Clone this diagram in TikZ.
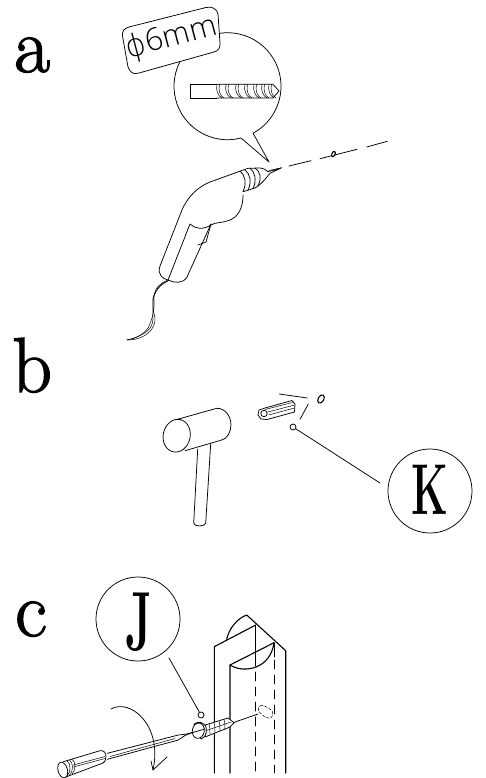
\documentclass[tikz,border=0pt]{standalone}
\usepackage{fontspec}
\newfontfamily\labfont{Open Sans Light}
\newfontfamily\phifont{DejaVu Sans ExtraLight}
\newfontfamily\letterfont[RawFeature={embolden=1.6}]{Latin Modern Roman}
\newfontfamily\badgefont{Latin Modern Roman}
\tikzset{
 ink/.style={line width=0.75pt,draw=black,line cap=round,line join=round},
 thin ink/.style={line width=0.5pt,draw=black,line cap=round,line join=round},
 thick ink/.style={line width=1.1pt,draw=black,line cap=round,line join=round},
 letter/.style={inner sep=0pt,anchor=base west,font=\letterfont\fontsize{78}{78}\selectfont},
 badge/.style={circle,draw=black,line width=0.75pt,minimum size=84pt,inner sep=0pt},
 badgetext/.style={inner sep=0pt,font=\badgefont\bfseries\fontsize{72}{72}\selectfont,xscale=0.58},
 dot/.style={circle,draw=black,line width=0.75pt,minimum size=6pt,inner sep=0pt,fill=white},
}
\begin{document}
\begin{tikzpicture}[x=1pt,y=-1pt]
\useasboundingbox (0,0) rectangle (485,778);
% letters
\node[letter] (la) at (14,72) {a};
\node[letter] (lb) at (12,392) {b};
\node[letter] (lc) at (15,636) {c};

% balloon
\draw[ink] (241,138) arc[start angle=75.4,end angle=421.5,radius=53.5] -- (269,162) -- cycle;
\draw[ink,fill=white] (122.5,36) .. controls (122,31) and (124,28.5) .. (129,27) -- (206,7.5) .. controls (212,6) and (217,9) .. (218,14) -- (220,43) .. controls (220.5,48) and (218,51) .. (214,52) -- (139,73) .. controls (133,75) and (130,72) .. (128,67) -- cycle;
\node[rotate=15,inner sep=0pt,font=\labfont\fontsize{31}{31}\selectfont] (size) at (171.5,38) {{\phifont ϕ}6mm};

% bit in the balloon
\draw[ink] (217,84.3) -- (190,84.3) -- (190,98) -- (217,98);
\draw[ink] (217,84.3) -- (273,84.3) -- (279,91) -- (273,98) -- (217,98);
\foreach \x in {217,226,236,245,254,262,269}{
  \draw[thin ink] (\x,84.3) .. controls (\x-1.5,90) and (\x+1,96) .. (\x+5,98);
  \draw[thin ink] (\x+2.5,84.3) .. controls (\x+1,90) and (\x+3,96) .. (\x+7,98);
}

% axis
\draw[ink] (289,166) -- (311,160.7);
\draw[ink] (320,158.7) -- (357,149.3);
\draw[ink] (366.7,147) -- (387.3,141.3);
\draw[line width=1.1pt,draw=black,fill=white,rotate around={-25:(333.5,154)}] (333.5,154) ellipse[x radius=1.6,y radius=2.8];

% drill
\draw[ink] (248,168.3) -- (235,173) -- (210,182) .. controls (193,189) and (184,203) .. (180,215) -- (160,266) .. controls (157,275) and (163,279) .. (168,280) .. controls (174,283) and (183,284) .. (187,277) -- (211,224);
\draw[ink] (168,280) -- (190,224) .. controls (195,229) and (203,230) .. (211,225) .. controls (215,222) and (224,223) .. (230,220) .. controls (240,216) and (243,205) .. (243,195);
\draw[ink] (211,224) -- (206,242) -- (198,245);
\draw[ink] (248,168.3) -- (260,168) .. controls (264,168.5) and (266,170) .. (268,171.7) -- (281.7,167.7) -- (270,173.3) .. controls (266,178) and (261,185) .. (255,188) -- (243,191.7);
\draw[ink] (240,171) .. controls (245,175) and (247,183) .. (243,191.7);
\draw[ink] (245,170) .. controls (250,174) and (252,181) .. (248,190.3);
\draw[ink] (250,168.2) .. controls (255,172) and (257,180) .. (253,188.8);
\draw[ink] (255,168.1) .. controls (260,171) and (262,178) .. (258,186);
\draw[thin ink] (269,170.5) -- (281,168);
% cord
\draw[thin ink] (168,280) .. controls (160,283) and (156,288) .. (155,292) .. controls (152,300) and (153,310) .. (155,318) .. controls (156,328) and (146,340) .. (127,340);
\draw[thin ink] (170,280) .. controls (160,284) and (153,293) .. (154,300) .. controls (155,312) and (151,322) .. (148,328) .. controls (143,335) and (135,339) .. (127,340);
\draw[thin ink] (168,281) .. controls (158,285) and (156,290) .. (153,298) .. controls (152,312) and (155,322) .. (150,328) .. controls (146,334) and (135,338) .. (127,340);

% hammer
\draw[ink,fill=white] (197.7,449) -- (193.7,523) .. controls (193.5,527) and (205.5,527) .. (205.7,523) -- (210.7,444);
\draw[ink,fill=white] (175,420) -- (216.7,408.3) .. controls (224,408) and (231,415) .. (231,425) .. controls (231,432) and (227,439) .. (221.7,440) -- (185,450.7);
\draw[ink,fill=white,rotate around={-12:(176.7,435.7)}] (176.7,435.7) ellipse[x radius=13.5,y radius=16.5];

% plug
\draw[ink,fill=white] (259,410) -- (265,408) -- (292,400.5) -- (295,404) -- (294.5,412) -- (267,419.5) -- (261,419) -- (258,415) -- cycle;
\draw[ink] (264,413.5) circle[radius=3.2];
\draw[thin ink] (265,409.5) -- (292.5,402.5);
\draw[thin ink] (268,412) -- (294.5,405);
\draw[thin ink] (268.5,415) -- (294.5,408);
\draw[line width=1.1pt,draw=black,rotate around={-30:(321,399)}] (321,399) ellipse[x radius=2.8,y radius=4.5];
\draw[ink] (279.3,394) -- (307.3,398);
\draw[ink] (308.3,404) -- (300,419.3);

% K
\node[badge] (K) at (430,491) {};
\node[badgetext] (Kt) at (430,490) {K};
\node[dot] (ksmall) at (293,427) {};
\coordinate (kend) at (380,483);
\draw[ink] (ksmall) -- (kend);

% J
\node[badge] (J) at (138,619) {};
\node[badgetext,font=\badgefont\bfseries\fontsize{84}{84}\selectfont,xscale=0.95] (Jt) at (139,622) {J};
\node[dot] (jsmall) at (201,715) {};
\coordinate (jend) at (169,658);
\draw[ink] (jend) -- (jsmall);

% profile
\draw[thick ink] (214.3,773) -- (214.3,646.7) -- (255.7,625);
\draw[thick ink] (230,773) -- (230,665) -- (274,642.7);
\draw[thick ink] (226.7,639.3) .. controls (229,628) and (238,618) .. (246.7,615) -- (285.7,650.7) -- (285.7,773);
\draw[ink] (255.7,625) -- (255.7,666);
\draw[ink] (274,642.7) -- (274,657);
\draw[thick ink] (230,665) .. controls (238,670) and (248,670) .. (256,667) .. controls (266,663) and (272,655) .. (274,643);
\draw[ink,dash pattern=on 9pt off 6pt] (255.7,672) -- (255.7,773);
\draw[ink,dash pattern=on 9pt off 6pt] (274,660) -- (274,773);
\draw[thin ink,dash pattern=on 3pt off 1.5pt,rounded corners=2.5pt,fill=white] (258.5,706) -- (263,705) -- (273,711) -- (272,718) -- (266,718) -- (258,711) -- cycle;

% screw
\draw[ink] (233,722.7) -- (258,714);
\draw[ink,fill=white] (205,725) -- (228,718) -- (234,722.7) -- (230,727) -- (205,737) -- cycle;
\foreach \x/\y in {209/724,214/722.5,219/721,224/719.5}{
  \draw[thin ink] (\x,\y) .. controls (\x+1,\y+3) and (\x+1,\y+7) .. (\x+1,\y+10);
}
\draw[thin ink] (205,731) -- (231,722);
\draw[ink,fill=white] (194,724) .. controls (198,721) and (204,722) .. (206,727) .. controls (207,731) and (206,735) .. (204,737) -- (201,739) -- cycle;
\draw[ink,fill=white,rotate around={-10:(198.3,730.7)}] (198.3,730.7) ellipse[x radius=6,y radius=7.7];

% screwdriver
\draw[ink,fill=white] (107.3,753.3) -- (178.3,735) -- (185,734.3) -- (193.3,732.3) -- (205,729);
\draw[ink] (193,732.3) -- (185,735.5) -- (178.3,740) -- (107.3,759.3);
\draw[thin ink] (110,756.5) -- (175,738.5);
\draw[ink,fill=white] (63.3,761.7) -- (100,750.7) .. controls (104,750) and (106,753) .. (106,756.7) .. controls (106,760) and (105,762) .. (103,763) -- (65,777.3);
\draw[thin ink] (67,760.7) .. controls (71,764) and (71,772) .. (67,776);
\draw[thin ink] (69.5,760) .. controls (73.5,763) and (73.5,771) .. (69.5,775);
\draw[thin ink] (72,759.3) .. controls (76,762) and (76,770) .. (72,774);
\draw[thin ink] (73.3,765) -- (105,756.5);
\draw[thin ink] (73.3,767) -- (105,758.5);
\draw[ink,fill=white,rotate around={15:(62.7,770)}] (62.7,770) ellipse[x radius=4.7,y radius=8];

% rotation arrow
\draw[ink] (111,709) .. controls (130,698) and (163,725) .. (153,770);
\draw[ink] (151,761) -- (153,770) -- (167,757);
\end{tikzpicture}
\end{document}
